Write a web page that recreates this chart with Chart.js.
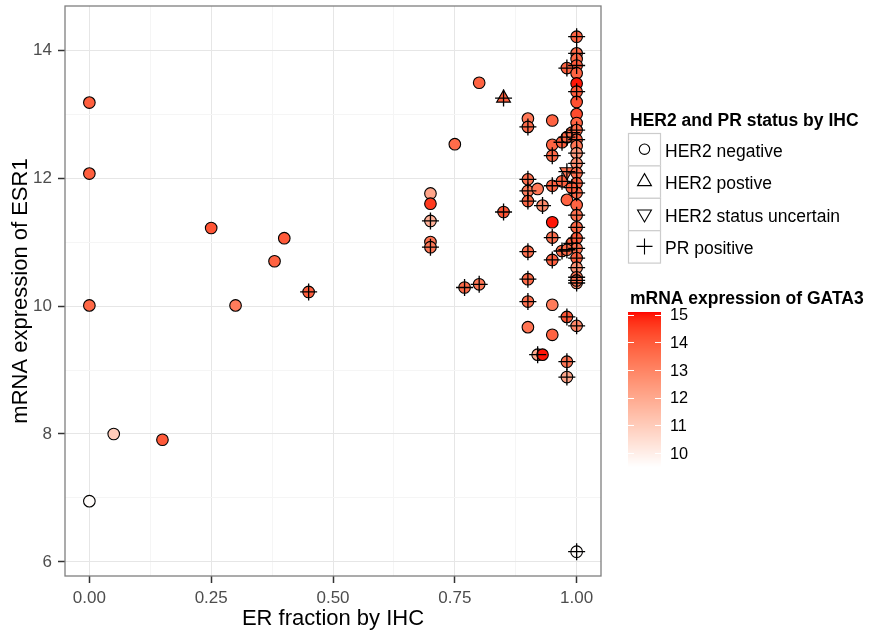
<!DOCTYPE html>
<html>
<head>
<meta charset="utf-8">
<title>ESR1 vs ER fraction</title>
<script src="https://cdn.jsdelivr.net/npm/chart.js@4.4.1/dist/chart.umd.min.js"></script>
<style>
  html, body { margin: 0; padding: 0; background: #fff; }
  #wrap { width: 869px; height: 634px; }
</style>
</head>
<body>
<div id="wrap"><canvas id="scatter" width="869" height="634"></canvas></div>
<script>
// ER fraction by IHC (x)
var erFraction = [
    0.00, 0.00, 0.00, 0.05, 0.15, 0.00, 0.25, 0.30, 0.38, 0.40, 0.45,
    0.70, 0.70, 0.70, 0.70, 0.70, 0.75, 0.80, 0.85, 0.85, 0.77, 0.80,
    0.90, 0.90, 0.95, 0.95, 0.95, 0.97, 0.98, 0.99, 0.90, 0.90, 0.90, 0.92, 0.95, 0.97,
    0.93, 0.95, 0.95, 0.98, 0.98, 0.90, 0.95, 0.97, 0.99, 0.90, 0.90, 0.95, 0.98, 1.00,
    0.90, 0.95, 0.92, 0.93, 0.98, 0.98, 1.00,
    1.00, 1.00, 1.00, 1.00, 0.98, 1.00, 1.00, 1.00, 1.00, 1.00, 1.00, 1.00, 1.00, 1.00,
    1.00, 1.00, 1.00, 1.00, 1.00, 1.00, 1.00, 1.00, 1.00, 1.00, 1.00, 1.00, 1.00, 1.00,
    1.00, 0.98, 0.99
];
// mRNA expression of ESR1 (y)
var esr1Expr = [
    13.18, 12.07, 10.01, 8.00, 7.91, 6.95, 11.22, 10.01, 10.70, 11.06, 10.22,
    11.76, 11.60, 11.33, 11.00, 10.92, 12.53, 13.49, 13.25, 11.47, 10.29, 10.34,
    12.93, 12.80, 12.90, 12.52, 12.35, 12.56, 12.64, 12.71, 11.98, 11.80, 11.64, 11.83, 11.88, 11.95,
    11.57, 11.31, 11.07, 11.66, 12.10, 10.85, 10.72, 10.86, 10.98, 10.42, 10.07, 10.02, 9.83, 9.69,
    9.67, 9.55, 9.24, 9.24, 9.13, 8.89, 6.16,
    14.21, 13.95, 13.86, 13.76, 13.72, 13.64, 13.48, 13.35, 13.19, 13.00, 12.86, 12.75, 12.60, 12.50,
    12.39, 12.23, 12.08, 11.92, 11.77, 11.58, 11.42, 11.23, 11.06, 10.90, 10.75, 10.60, 10.45, 10.36,
    10.40, 10.88, 11.85
];
// mRNA expression of GATA3 (fill)
var gata3Expr = [
    13.9, 13.9, 13.7, 11.0, 14.0, 9.6, 14.1, 13.2, 13.8, 14.0, 13.9,
    12.1, 14.6, 11.8, 13.4, 13.3, 13.6, 13.8, 13.9, 14.1, 13.6, 13.3,
    13.3, 13.6, 13.8, 13.8, 13.7, 13.9, 13.7, 13.5, 13.5, 13.2, 13.7, 13.3, 13.8, 13.8,
    12.8, 15.0, 13.5, 13.8, 13.4, 13.5, 13.9, 13.6, 13.8, 13.6, 13.5, 13.2, 14.1, 12.9,
    13.4, 13.8, 12.0, 15.0, 13.4, 12.1, 9.6,
    13.8, 13.6, 13.7, 14.0, 13.8, 13.8, 15.0, 14.0, 14.2, 14.3, 13.8, 13.6, 13.9, 13.4,
    12.4, 12.7, 13.5, 13.8, 13.6, 13.8, 13.5, 13.7, 14.0, 13.5, 13.8, 12.6, 13.4, 12.8,
    13.4, 13.6, 13.9
];
// HER2 status: 'neg', 'pos', 'unc'
var her2Status = [
    'neg', 'neg', 'neg', 'neg', 'neg', 'neg', 'neg', 'neg', 'neg', 'neg', 'neg',
    'neg', 'neg', 'neg', 'neg', 'neg', 'neg', 'neg', 'pos', 'neg', 'neg', 'neg',
    'neg', 'neg', 'neg', 'neg', 'neg', 'neg', 'neg', 'neg', 'neg', 'neg', 'neg', 'neg', 'neg', 'neg',
    'neg', 'neg', 'neg', 'neg', 'unc', 'neg', 'neg', 'neg', 'neg', 'neg', 'neg', 'neg', 'neg', 'neg',
    'neg', 'neg', 'neg', 'neg', 'neg', 'neg', 'neg',
    'neg', 'neg', 'neg', 'neg', 'neg', 'neg', 'neg', 'neg', 'neg', 'neg', 'neg', 'neg', 'neg', 'neg',
    'neg', 'neg', 'neg', 'neg', 'neg', 'neg', 'neg', 'neg', 'neg', 'neg', 'neg', 'neg', 'neg', 'neg',
    'neg', 'neg', 'neg'
];
// PR positive (1) or not (0)
var prPositive = [
    0, 0, 0, 0, 0, 0, 0, 0, 0, 0, 1,
    0, 0, 1, 0, 1, 0, 0, 1, 1, 1, 1,
    0, 1, 0, 0, 1, 1, 1, 1, 1, 1, 1, 0, 1, 1,
    1, 0, 1, 0, 1, 1, 1, 1, 1, 1, 1, 0, 1, 1,
    0, 0, 1, 0, 1, 1, 1,
    1, 1, 0, 1, 1, 0, 0, 1, 0, 0, 0, 1, 1, 0,
    1, 1, 1, 1, 1, 0, 1, 1, 1, 1, 1, 1, 1, 1,
    1, 1, 1
];

var xMajorTicks = [0, 0.25, 0.5, 0.75, 1];
var xMinorTicks = [0.125, 0.375, 0.625, 0.875];
var yMajorTicks = [6, 8, 10, 12, 14];
var yMinorTicks = [7, 9, 11, 13];
var gataTicks = [10, 11, 12, 13, 14, 15];
var gataLimits = [9.5, 15.1];

var shapeLabels = ['HER2 negative', 'HER2 postive', 'HER2 status uncertain', 'PR positive'];

var FONT = "'Liberation Sans', Arial, Helvetica, sans-serif";

// white -> red gradient, interpolated in CIE Lab like ggplot
function labToRgb(L, a, b) {
    var fy = (L + 16) / 116, fx = fy + a / 500, fz = fy - b / 200;
    var f = function (t) { return t * t * t > 0.008856 ? t * t * t : (t - 16 / 116) / 7.787; };
    var X = 0.95047 * f(fx), Y = f(fy), Z = 1.08883 * f(fz);
    var r = 3.2406 * X - 1.5372 * Y - 0.4986 * Z;
    var g = -0.9689 * X + 1.8758 * Y + 0.0415 * Z;
    var bl = 0.0557 * X - 0.2040 * Y + 1.0570 * Z;
    var gam = function (c) {
        c = Math.min(1, Math.max(0, c));
        return Math.round(255 * (c <= 0.0031308 ? 12.92 * c : 1.055 * Math.pow(c, 1 / 2.4) - 0.055));
    };
    return 'rgb(' + gam(r) + ',' + gam(g) + ',' + gam(bl) + ')';
}
function gataColor(v) {
    var t = (v - gataLimits[0]) / (gataLimits[1] - gataLimits[0]);
    t = Math.min(1, Math.max(0, t));
    return labToRgb(100 + (53.24 - 100) * t, 80.09 * t, 67.20 * t);
}

var shapePoints = [], shapeStyles = [], shapeRot = [], shapeRadius = [], shapeFill = [];
var prPoints = [];
for (var i = 0; i < erFraction.length; i++) {
    shapePoints.push({ x: erFraction[i], y: esr1Expr[i] });
    shapeFill.push(gataColor(gata3Expr[i]));
    if (her2Status[i] == 'neg') {
        shapeStyles.push('circle'); shapeRot.push(0); shapeRadius.push(5.8);
    } else {
        shapeStyles.push('triangle'); shapeRot.push(her2Status[i] == 'unc' ? 180 : 0); shapeRadius.push(8);
    }
    if (prPositive[i]) prPoints.push({ x: erFraction[i], y: esr1Expr[i] });
}

function isIn(list, v) {
    for (var k = 0; k < list.length; k++) if (Math.abs(list[k] - v) < 1e-9) return true;
    return false;
}

var panelBorder = {
    id: 'panelBorder',
    afterDatasetsDraw: function (chart) {
        var a = chart.chartArea, ctx = chart.ctx;
        ctx.save();
        ctx.strokeStyle = '#7f7f7f';
        ctx.lineWidth = 1.3;
        ctx.strokeRect(a.left, a.top, a.right - a.left, a.bottom - a.top);
        ctx.restore();
    }
};

function keySymbol(ctx, kind, cx, cy) {
    ctx.beginPath();
    if (kind == 0) {
        ctx.arc(cx, cy, 5.2, 0, Math.PI * 2);
    } else if (kind == 1 || kind == 2) {
        var r = 8, s = kind == 1 ? 1 : -1;
        ctx.moveTo(cx, cy - s * r);
        ctx.lineTo(cx + r * 0.866, cy + s * r * 0.5);
        ctx.lineTo(cx - r * 0.866, cy + s * r * 0.5);
        ctx.closePath();
    } else {
        ctx.moveTo(cx - 8, cy); ctx.lineTo(cx + 8, cy);
        ctx.moveTo(cx, cy - 8); ctx.lineTo(cx, cy + 8);
    }
    ctx.stroke();
}

var sideLegends = {
    id: 'sideLegends',
    afterDraw: function (chart) {
        var ctx = chart.ctx;
        var left = chart.chartArea.right + 27;
        ctx.save();
        ctx.textBaseline = 'alphabetic';
        ctx.textAlign = 'left';
        ctx.fillStyle = '#000';

        // shape legend
        ctx.font = 'bold 17.5px ' + FONT;
        ctx.fillText('HER2 and PR status by IHC', left + 2, 126);
        var rowH = 32.4, top = 133;
        for (var k = 0; k < shapeLabels.length; k++) {
            var ry = top + k * rowH;
            ctx.fillStyle = '#fff';
            ctx.fillRect(left, ry, 33, rowH);
            ctx.strokeStyle = '#cccccc';
            ctx.lineWidth = 1.2;
            ctx.strokeRect(left + 0.5, ry + 0.5, 32, rowH);
            ctx.strokeStyle = '#000';
            ctx.lineWidth = 1.1;
            keySymbol(ctx, k, left + 16.5, ry + rowH / 2);
            ctx.fillStyle = '#000';
            ctx.font = '17.5px ' + FONT;
            ctx.fillText(shapeLabels[k], left + 37, ry + 24);
        }

        // colour bar
        ctx.font = 'bold 17.5px ' + FONT;
        ctx.fillText('mRNA expression of GATA3', left + 2, 303.5);
        var barTop = 312, barH = 155, barW = 33;
        for (var p = 0; p < barH; p++) {
            var v = gataLimits[1] - (p + 0.5) / barH * (gataLimits[1] - gataLimits[0]);
            ctx.fillStyle = gataColor(v);
            ctx.fillRect(left, barTop + p, barW, 1.2);
        }
        ctx.font = '16.3px ' + FONT;
        ctx.textBaseline = 'middle';
        ctx.strokeStyle = '#ffffff';
        ctx.lineWidth = 1;
        gataTicks.forEach(function (t) {
            var ty = barTop + (gataLimits[1] - t) / (gataLimits[1] - gataLimits[0]) * barH;
            var py = Math.round(ty) + 0.5;
            ctx.beginPath();
            ctx.moveTo(left, py); ctx.lineTo(left + 6, py);
            ctx.moveTo(left + barW - 6, py); ctx.lineTo(left + barW, py);
            ctx.stroke();
            ctx.fillStyle = '#000';
            ctx.fillText(String(t), left + 42, ty + 1);
        });
        ctx.restore();
    }
};

var chart = new Chart(document.getElementById('scatter'), {
    type: 'scatter',
    data: {
        datasets: [{
            label: 'PR positive',
            data: prPoints,
            order: 0,
            pointStyle: 'cross',
            pointRadius: 8.5,
            pointBorderColor: '#000',
            pointBorderWidth: 1.3,
            pointBackgroundColor: 'rgba(0,0,0,0)'
        }, {
            label: 'HER2 status',
            data: shapePoints,
            order: 1,
            pointStyle: shapeStyles,
            pointRotation: shapeRot,
            pointRadius: shapeRadius,
            pointBackgroundColor: shapeFill,
            pointBorderColor: '#000',
            pointBorderWidth: 1.1
        }]
    },
    options: {
        responsive: false,
        animation: false,
        events: [],
        layout: { autoPadding: false, padding: { top: 6, right: 268, left: 0, bottom: 0 } },
        plugins: {
            legend: { display: false },
            tooltip: { enabled: false }
        },
        scales: {
            x: {
                type: 'linear',
                min: -0.05,
                max: 1.05,
                afterBuildTicks: function (scale) {
                    scale.ticks = xMajorTicks.concat(xMinorTicks).sort().map(function (v) { return { value: v }; });
                },
                afterFit: function (scale) {
                    scale.height = 58;
                    scale.paddingLeft = 0;
                    scale.paddingRight = 0;
                },
                border: { display: false },
                grid: {
                    color: function (c) { return isIn(xMajorTicks, c.tick.value) ? '#e6e6e6' : '#f5f5f5'; },
                    tickColor: function (c) { return isIn(xMajorTicks, c.tick.value) ? '#333333' : 'rgba(0,0,0,0)'; },
                    tickLength: 7,
                    tickWidth: 1.5,
                    lineWidth: 1
                },
                ticks: {
                    autoSkip: false,
                    maxRotation: 0,
                    padding: 5,
                    color: '#4d4d4d',
                    font: { family: FONT, size: 17 },
                    callback: function (v) { return isIn(xMajorTicks, v) ? v.toFixed(2) : ''; }
                },
                title: {
                    display: true,
                    text: 'ER fraction by IHC',
                    color: '#000',
                    font: { family: FONT, size: 22 },
                    padding: { top: 0, bottom: 2 }
                }
            },
            y: {
                type: 'linear',
                min: 5.78,
                max: 14.69,
                afterBuildTicks: function (scale) {
                    scale.ticks = yMajorTicks.concat(yMinorTicks).sort(function (a, b) { return a - b; }).map(function (v) { return { value: v }; });
                },
                afterFit: function (scale) {
                    scale.width = 65;
                    scale.paddingTop = 0;
                    scale.paddingBottom = 0;
                },
                border: { display: false },
                grid: {
                    color: function (c) { return isIn(yMajorTicks, c.tick.value) ? '#e6e6e6' : '#f5f5f5'; },
                    tickColor: function (c) { return isIn(yMajorTicks, c.tick.value) ? '#333333' : 'rgba(0,0,0,0)'; },
                    tickLength: 7,
                    tickWidth: 1.5,
                    lineWidth: 1
                },
                ticks: {
                    autoSkip: false,
                    padding: 6,
                    color: '#4d4d4d',
                    font: { family: FONT, size: 17 },
                    callback: function (v) { return isIn(yMajorTicks, v) ? String(v) : ''; }
                },
                title: {
                    display: true,
                    text: 'mRNA expression of ESR1',
                    color: '#000',
                    font: { family: FONT, size: 22 },
                    padding: { top: 8, bottom: 0 }
                }
            }
        }
    },
    plugins: [panelBorder, sideLegends]
});
</script>
</body>
</html>
